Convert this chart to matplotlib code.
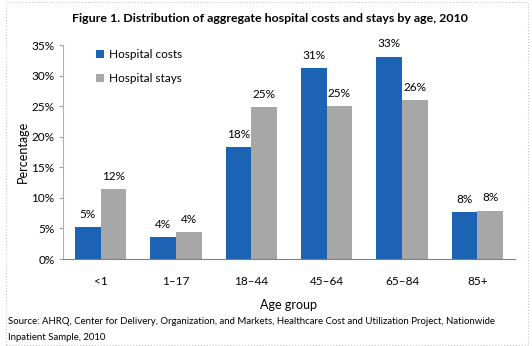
import numpy as np
import matplotlib.pyplot as plt
from matplotlib.patches import Rectangle

plt.rcParams['font.family'] = ['Lato', 'DejaVu Sans']

# age groups and shares (%)
age_groups = ['<1', '1\u201317', '18\u201344', '45\u201364', '65\u201384', '85+']
costs = [5.2, 3.6, 18.3, 31.2, 33.1, 7.7]
stays = [11.4, 4.4, 24.8, 25.0, 26.0, 7.9]
cost_labels = ['5%', '4%', '18%', '31%', '33%', '8%']
stay_labels = ['12%', '4%', '25%', '25%', '26%', '8%']

blue = '#1d63b3'
gray = '#a7a7a7'

fig = plt.figure(figsize=(5.32, 3.46), dpi=100)
ax = fig.add_axes([63 / 532, 1 - 259 / 346, 452 / 532, 214 / 346])

x = np.arange(len(age_groups))
w = 0.34
b1 = ax.bar(x - w / 2, costs, w, color=blue, label='Hospital costs')
b2 = ax.bar(x + w / 2, stays, w, color=gray, label='Hospital stays')

for bar, lab in zip(b1, cost_labels):
    ax.text(bar.get_x() + bar.get_width() / 2, bar.get_height() + 1.2, lab,
            ha='center', va='bottom', fontsize=8.5)
for bar, lab in zip(b2, stay_labels):
    ax.text(bar.get_x() + bar.get_width() / 2, bar.get_height() + 1.2, lab,
            ha='center', va='bottom', fontsize=8.5)

ax.set_xlim(-0.5, len(age_groups) - 0.5)
ax.set_ylim(0, 35)
ax.set_yticks(range(0, 36, 5))
ax.set_yticklabels([f'{v}%' for v in range(0, 36, 5)], fontsize=8.5)
ax.set_xticks(x)
ax.set_xticklabels(age_groups, fontsize=8.5)
ax.tick_params(axis='x', length=0, pad=12)
ax.tick_params(axis='y', length=3, color='#a0a0a0', pad=3)
for s in ['top', 'right']:
    ax.spines[s].set_visible(False)
ax.spines['left'].set_color('#b0b0b0')
ax.spines['bottom'].set_color('#808080')

ax.set_xlabel('Age group', fontsize=9, labelpad=9)
ax.set_ylabel('Percentage', fontsize=9, labelpad=2)

ax.legend(loc='upper left', bbox_to_anchor=(0.05, 1.03), frameon=False,
          fontsize=8.5, handlelength=0.7, handleheight=0.7,
          handletextpad=0.4, labelspacing=1.1)

fig.text(270 / 532, 1 - 19 / 346,
         'Figure 1. Distribution of aggregate hospital costs and stays by age, 2010',
         ha='center', va='center', fontsize=8.9, fontweight='bold')
fig.text(8 / 532, 1 - 321 / 346,
         'Source: AHRQ, Center for Delivery, Organization, and Markets, Healthcare Cost and Utilization Project, Nationwide',
         ha='left', va='center', fontsize=6.9)
fig.text(8 / 532, 1 - 337 / 346, 'Inpatient Sample, 2010',
         ha='left', va='center', fontsize=6.9)

# dotted frame round the chart
fig.patches.append(Rectangle((6 / 532, 1 / 346), 522 / 532, 343 / 346,
                             transform=fig.transFigure, fill=False,
                             edgecolor='#c8c8c8', linestyle=':', linewidth=0.8))

fig.savefig('out.png', dpi=100)
